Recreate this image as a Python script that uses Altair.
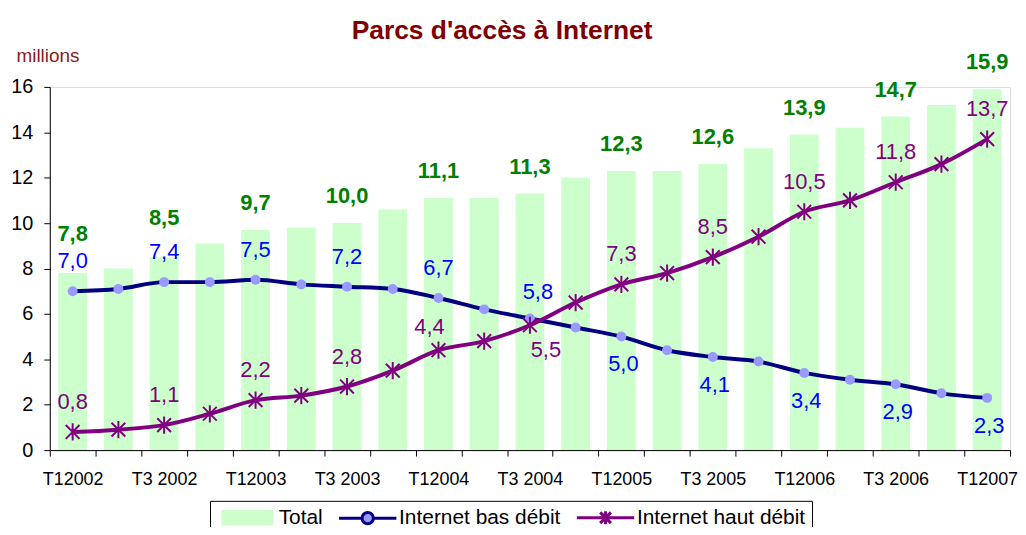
import altair as alt
import pandas as pd

# ---- data ----
quarters = ["T12002", "T2 2002", "T3 2002", "T4 2002",
            "T12003", "T2 2003", "T3 2003", "T4 2003",
            "T12004", "T2 2004", "T3 2004", "T4 2004",
            "T12005", "T2 2005", "T3 2005", "T4 2005",
            "T12006", "T2 2006", "T3 2006", "T4 2006",
            "T12007"]
total = [7.8, 8.0, 8.5, 9.1, 9.7, 9.8, 10.0, 10.6, 11.1, 11.1, 11.3,
         12.0, 12.3, 12.3, 12.6, 13.3, 13.9, 14.2, 14.7, 15.2, 15.9]
bas = [7.0, 7.1, 7.4, 7.4, 7.5, 7.3, 7.2, 7.1, 6.7, 6.2, 5.8,
       5.4, 5.0, 4.4, 4.1, 3.9, 3.4, 3.1, 2.9, 2.5, 2.3]
haut = [0.8, 0.9, 1.1, 1.6, 2.2, 2.4, 2.8, 3.5, 4.4, 4.8, 5.5,
        6.5, 7.3, 7.8, 8.5, 9.4, 10.5, 11.0, 11.8, 12.6, 13.7]
series_names = ["Total", "Internet bas débit", "Internet haut débit"]
y_ticks = [0, 2, 4, 6, 8, 10, 12, 14, 16]

# ---- styles ----
FONT = "Liberation Sans"
C_TOTAL = "#CCFFCC"
C_BAS = "#000080"
C_BAS_PT = "#9999FF"
C_BAS_TXT = "#0000FF"
C_HAUT = "#800080"
C_TOT_TXT = "#008000"
C_TITLE = "#800000"
STAR = "M0,-1L0,1M-0.8,-0.8L0.8,0.8M-0.8,0.8L0.8,-0.8"
LEG_RECT = "M-4.1,-1.05H4.1V1.05H-4.1Z"
LEG_BAS = ("M-4.8,0H-1M1,0H4.8M-0.95,0A0.95,0.95 0 1 1 0.95,0"
           "A0.95,0.95 0 1 1 -0.95,0Z")
LEG_HAUT = "M-4.8,0H4.8M0,-1.1V1.1M-0.9,-0.9L0.9,0.9M-0.9,0.9L0.9,-0.9"


def fmt(v):
    return f"{v:.1f}".replace(".", ",")


df = pd.DataFrame({
    "q": quarters,
    "i": list(range(len(quarters))),
    "total": total,
    "bas": bas,
    "haut": haut,
    "total_t": [fmt(v) for v in total],
    "bas_t": [fmt(v) for v in bas],
    "haut_t": [fmt(v) for v in haut],
})

x_enc = alt.X(
    "q:N", sort=quarters,
    scale=alt.Scale(paddingInner=0, paddingOuter=0),
    axis=alt.Axis(
        title=None, labelAngle=0, tickBand="extent",
        labelExpr="(slice(datum.label,0,2)=='T2'||slice(datum.label,0,2)=='T4') ? '' : datum.label",
        labelFontSize=18, labelFont=FONT, labelColor="black", labelPadding=15,
        labelOverlap=False, tickSize=6, tickColor="black", domainColor="black",
    ),
)

y_axis = alt.Axis(
    values=y_ticks, grid=False,
    title="millions", titleAngle=0, titleX=-34, titleY=-26,
    titleAlign="left", titleBaseline="alphabetic", titleColor="#8B1A1A",
    titleFontSize=19, titleFontWeight="normal", titleFont=FONT,
    labelFontSize=20, labelFont=FONT, labelColor="black", labelPadding=11,
    tickSize=6, tickColor="black", domainColor="black",
)


def Y(field):
    return alt.Y(f"{field}:Q", scale=alt.Scale(domain=[0, 16], nice=False), axis=y_axis)


base = alt.Chart(df).encode(x=x_enc)

bars = base.mark_bar(color=C_TOTAL, width={"band": 0.63}).encode(y=Y("total"))

bas_line = base.mark_line(color=C_BAS, strokeWidth=4, interpolate="monotone").encode(y=Y("bas"))
bas_pts = base.mark_circle(size=100, color=C_BAS_PT, opacity=1).encode(y=Y("bas"))
haut_line = base.mark_line(color=C_HAUT, strokeWidth=4, interpolate="monotone").encode(y=Y("haut"))
haut_pts = base.mark_point(shape=STAR, size=300, color=C_HAUT, strokeWidth=2,
                           filled=False, opacity=1).encode(y=Y("haut"))


def labels(field, cond, color, dy, dx=0, bold=False):
    return base.transform_filter(cond).mark_text(
        font=FONT, fontSize=22, color=color, baseline="middle", align="center",
        fontWeight="bold" if bold else "normal", dy=dy, dx=dx,
    ).encode(y=Y(field), text=f"{field}_t:N")


even = "datum.i % 2 == 0"
tot_lab1 = labels("total", f"{even} && datum.i >= 4", C_TOT_TXT, -27, bold=True)
tot_lab2 = labels("total", f"{even} && datum.i < 4", C_TOT_TXT, -39, bold=True)
bas_lab1 = labels("bas", f"{even} && datum.i <= 8", C_BAS_TXT, -30)
bas_lab2 = labels("bas", "datum.i == 10", C_BAS_TXT, -27, dx=8)
bas_lab3 = labels("bas", f"{even} && datum.i >= 12", C_BAS_TXT, 28, dx=2)
haut_lab1 = labels("haut", f"{even} && datum.i != 10 && datum.i != 8", C_HAUT, -30)
haut_lab2 = labels("haut", "datum.i == 8", C_HAUT, -23, dx=-9)
haut_lab3 = labels("haut", "datum.i == 10", C_HAUT, 25, dx=16)

leg = alt.Legend(
    title=None, orient="none", legendX=161, legendY=416, direction="horizontal",
    strokeColor="black", fillColor="white", padding=6,
    symbolSize=144, symbolStrokeWidth=3, symbolOffset=21, labelOffset=21,
    columnPadding=9, labelFontSize=21, labelFont=FONT, labelColor="black",
    labelLimit=400,
)

phantom = alt.Chart(pd.DataFrame({"series": series_names})).transform_filter("false").mark_point(
    filled=True, opacity=1
).encode(
    fill=alt.Fill("series:N", scale=alt.Scale(domain=series_names,
                                              range=[C_TOTAL, C_BAS_PT, "transparent"]), legend=leg),
    stroke=alt.Stroke("series:N", scale=alt.Scale(domain=series_names,
                                                  range=[C_TOTAL, C_BAS, C_HAUT]), legend=leg),
    shape=alt.Shape("series:N", scale=alt.Scale(domain=series_names,
                                                range=[LEG_RECT, LEG_BAS, LEG_HAUT]), legend=leg),
)

chart = alt.layer(
    bars, tot_lab1, tot_lab2,
    bas_line, bas_pts, haut_line, haut_pts,
    bas_lab1, bas_lab2, bas_lab3, haut_lab1, haut_lab2, haut_lab3,
    phantom,
).properties(
    width=965, height=365,
    autosize=alt.AutoSizeParams(type="none"),
    padding={"left": 42, "top": 78, "right": 8, "bottom": 76},
    title=alt.TitleParams(
        "Parcs d'accès à Internet", anchor="middle", dx=-28, dy=27, offset=8,
        baseline="alphabetic", fontSize=26.5, fontWeight="bold", color=C_TITLE, font=FONT,
    ),
).configure_view(stroke=None).configure(background="white")

chart.save("out.html", embed_options={"renderer": "svg", "actions": False})
